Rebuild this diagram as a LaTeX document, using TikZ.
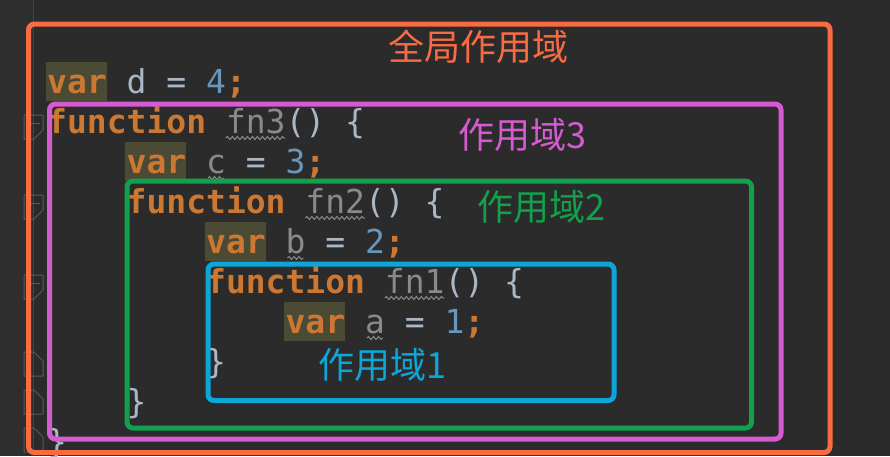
\documentclass[tikz,border=0pt]{standalone}
\usepackage{fontspec}
\usetikzlibrary{decorations.pathmorphing}
\newfontfamily\codefont{DejaVu Sans Mono}
\newfontfamily\cjk{Noto Sans CJK SC}
\definecolor{bgc}{HTML}{2B2B2B}
\definecolor{gutc}{HTML}{2E2E2E}
\definecolor{gline}{HTML}{444444}
\definecolor{foldc}{HTML}{5A5A5A}
\definecolor{kwc}{HTML}{CC7832}
\definecolor{txc}{HTML}{A9B7C6}
\definecolor{nmc}{HTML}{6897BB}
\definecolor{unc}{HTML}{8A8A8A}
\definecolor{hlc}{HTML}{4B4A34}
\definecolor{orc}{HTML}{F96B43}
\definecolor{mgc}{HTML}{D55BD0}
\definecolor{grc}{HTML}{12A04C}
\definecolor{blc}{HTML}{0CA6D9}
\newcommand\spc{\hspace*{0.60205em}}
\newcommand\kw[1]{\textcolor{kwc}{\bfseries #1}}
\newcommand\tx[1]{\textcolor{txc}{#1}}
\newcommand\nm[1]{\textcolor{nmc}{#1}}
\newcommand\un[1]{\textcolor{unc}{#1}}
\def\cw{19.87}
\tikzset{
  code/.style={anchor=base west, inner sep=0pt, font=\codefont\fontsize{33}{33}\selectfont},
  scopebox/.style={line width=5pt, rounded corners=6pt},
  scopelabel/.style={anchor=west, inner sep=0pt, font=\cjk\fontsize{36}{36}\selectfont},
  wavy/.style={draw=unc, line width=1pt, decorate, decoration={snake, amplitude=1.5pt, segment length=5pt}},
  hl/.style={fill=hlc, draw=none},
  fold/.style={draw=foldc, line width=1pt, line join=round}
}
\begin{document}
\begin{tikzpicture}[x=1pt,y=-1pt]
\useasboundingbox (0,0) rectangle (890,456);
\fill[bgc] (0,0) rectangle (890,456);
\fill[gutc] (0,0) rectangle (33,456);
\draw[gline, line width=1pt] (33,0) -- (33,456);
% fold markers (open)
\foreach \y in {115,195,275}{
  \draw[fold] (24,\y) -- (43,\y) -- (43,\y+15) -- (34,\y+24) -- (24,\y+24) -- cycle;
  \draw[fold] (31,\y+8) -- (40,\y+8);
}
% fold markers (close)
\foreach \y in {352,390,428}{
  \draw[fold] (24,\y) -- (34,\y) -- (43,\y+9) -- (43,\y+24) -- (24,\y+24) -- cycle;
}
% var highlights
\foreach \c/\b in {0/93,4/173,8/253,12/333}{
  \fill[hlc] ({47+\c*\cw-1},\b-31) rectangle ({47+(\c+3)*\cw},\b+8);
}
% code
\node[code] (c1) at (47,93) {\kw{var}\spc\tx{d}\spc\tx{=}\spc\nm{4}\kw{;}};
\node[code] (c2) at (47,133) {\kw{function}\spc\un{fn3}\tx{()}\spc\tx{\{}};
\node[code] (c3) at (47,173) {\spc\spc\spc\spc\kw{var}\spc\un{c}\spc\tx{=}\spc\nm{3}\kw{;}};
\node[code] (c4) at (47,213) {\spc\spc\spc\spc\kw{function}\spc\un{fn2}\tx{()}\spc\tx{\{}};
\node[code] (c5) at (47,253) {\spc\spc\spc\spc\spc\spc\spc\spc\kw{var}\spc\un{b}\spc\tx{=}\spc\nm{2}\kw{;}};
\node[code] (c6) at (47,293) {\spc\spc\spc\spc\spc\spc\spc\spc\kw{function}\spc\un{fn1}\tx{()}\spc\tx{\{}};
\node[code] (c7) at (47,333) {\spc\spc\spc\spc\spc\spc\spc\spc\spc\spc\spc\spc\kw{var}\spc\un{a}\spc\tx{=}\spc\nm{1}\kw{;}};
\node[code] (c8) at (47,373) {\spc\spc\spc\spc\spc\spc\spc\spc\tx{\}}};
\node[code] (c9) at (47,413) {\spc\spc\spc\spc\tx{\}}};
\node[code] (c10) at (47,453) {\tx{\}}};
% wavy underlines
\draw[wavy] ({47+9*\cw},138) -- ({47+12*\cw},138);
\draw[wavy] ({47+8*\cw+2},178) -- ({47+9*\cw-2},178);
\draw[wavy] ({47+13*\cw},218) -- ({47+16*\cw},218);
\draw[wavy] ({47+12*\cw+2},258) -- ({47+13*\cw-2},258);
\draw[wavy] ({47+17*\cw},298) -- ({47+20*\cw},298);
\draw[wavy] ({47+16*\cw+2},338) -- ({47+17*\cw-2},338);
% scope boxes
\draw[scopebox, orc] (28.5,24) rectangle (830,452.5);
\draw[scopebox, mgc] (49.5,104) rectangle (781,439);
\draw[scopebox, grc] (127,181) rectangle (751.5,428);
\draw[scopebox, blc] (208,264) rectangle (614,400.5);
% labels
\node[scopelabel, text=orc] (s0) at (388,47) {全局作用域};
\node[scopelabel, text=mgc] (s3) at (458,135) {作用域3};
\node[scopelabel, text=grc] (s2) at (477,207) {作用域2};
\node[scopelabel, text=blc] (s1) at (318,365) {作用域1};
\end{tikzpicture}
\end{document}
